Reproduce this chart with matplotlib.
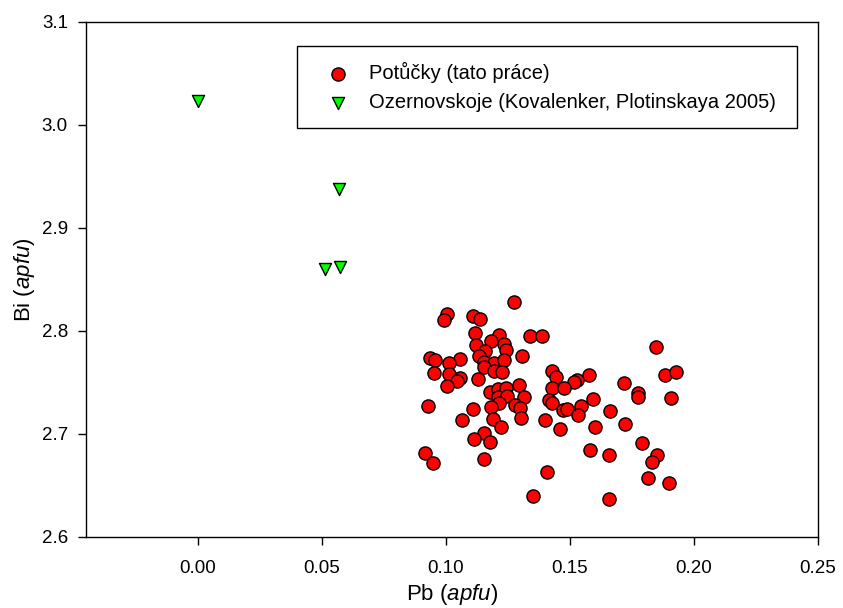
import matplotlib
matplotlib.use("Agg")
import matplotlib.pyplot as plt

plt.rcParams['font.family'] = ['Liberation Sans', 'DejaVu Sans']
plt.rcParams['mathtext.fontset'] = 'custom'
plt.rcParams['mathtext.rm'] = 'Liberation Sans'
plt.rcParams['mathtext.it'] = 'Liberation Sans:italic'

potucky_pb = [0.1275, 0.1006, 0.0993, 0.1110, 0.1138, 0.1119, 0.1340, 0.1390, 0.1214, 0.1183,
              0.1234, 0.1123, 0.1244, 0.1157, 0.1136, 0.1308, 0.0935, 0.0957, 0.1056, 0.1013,
              0.1154, 0.1196, 0.1234, 0.1155, 0.0952, 0.1013, 0.1194, 0.1228, 0.1058, 0.1047,
              0.1132, 0.1006, 0.1177, 0.1210, 0.1244, 0.1294, 0.1213, 0.1246, 0.1316, 0.1217,
              0.1183, 0.1280, 0.0928, 0.1110, 0.1298, 0.1066, 0.1189, 0.1224, 0.1303, 0.1401,
              0.1154, 0.1114, 0.1177, 0.0918, 0.0950, 0.1153, 0.1408, 0.1354, 0.1848, 0.1429,
              0.1445, 0.1529, 0.1519, 0.1577, 0.1429, 0.1476, 0.1718, 0.1886, 0.1929, 0.1777,
              0.1777, 0.1415, 0.1428, 0.1593, 0.1910, 0.1546, 0.1662, 0.1472, 0.1488, 0.1534,
              0.1462, 0.1604, 0.1725, 0.1792, 0.1583, 0.1660, 0.1853, 0.1833, 0.1815, 0.1899,
              0.1660]
potucky_bi = [2.828, 2.816, 2.811, 2.814, 2.812, 2.798, 2.795, 2.795, 2.796, 2.790,
              2.787, 2.786, 2.781, 2.780, 2.776, 2.776, 2.774, 2.772, 2.773, 2.769,
              2.770, 2.769, 2.772, 2.765, 2.759, 2.758, 2.761, 2.760, 2.754, 2.751,
              2.753, 2.746, 2.741, 2.744, 2.745, 2.747, 2.736, 2.737, 2.736, 2.730,
              2.726, 2.728, 2.727, 2.724, 2.725, 2.713, 2.714, 2.707, 2.715, 2.713,
              2.701, 2.695, 2.692, 2.681, 2.672, 2.676, 2.663, 2.640, 2.784, 2.761,
              2.755, 2.752, 2.750, 2.757, 2.745, 2.745, 2.749, 2.757, 2.760, 2.740,
              2.736, 2.733, 2.730, 2.734, 2.735, 2.727, 2.722, 2.723, 2.724, 2.718,
              2.705, 2.707, 2.710, 2.691, 2.684, 2.679, 2.679, 2.673, 2.657, 2.652,
              2.637]

ozern_pb = [0.0, 0.0572, 0.0512, 0.0576]
ozern_bi = [3.023, 2.938, 2.860, 2.862]

xticks = [0.00, 0.05, 0.10, 0.15, 0.20, 0.25]
yticks = [2.6, 2.7, 2.8, 2.9, 3.0, 3.1]

fig = plt.figure(figsize=(8.43, 6.08), dpi=100)
ax = fig.add_axes([0.102, 0.117, 0.868, 0.847])

ax.scatter(potucky_pb, potucky_bi, s=90, c='#ff0000', edgecolors='black', linewidths=1.0,
           marker='o', label='Potůčky (tato práce)', zorder=3)
ax.scatter(ozern_pb, ozern_bi, s=75, c='#00ff00', edgecolors='black', linewidths=1.0,
           marker='v', label='Ozernovskoje (Kovalenker, Plotinskaya 2005)', zorder=3)

ax.set_xlim(-0.045, 0.25)
ax.set_ylim(2.6, 3.1)
ax.set_xticks(xticks)
ax.set_xticklabels([f'{t:.2f}' for t in xticks])
ax.set_yticks(yticks)
ax.set_yticklabels([f'{t:.1f}' for t in yticks])
ax.tick_params(direction='out', length=6, width=1, labelsize=13.5, top=False, right=False)
ax.tick_params(axis='x', pad=11)
ax.tick_params(axis='y', pad=7)
for sp in ax.spines.values():
    sp.set_linewidth(1.0)

ax.set_xlabel(r'Pb ($\mathit{apfu}$)', fontsize=16)
ax.set_ylabel(r'Bi ($\mathit{apfu}$)', fontsize=16)
ax.xaxis.set_label_coords(0.5, -0.088)
ax.yaxis.set_label_coords(-0.067, 0.5)

leg = ax.legend(loc='upper left', bbox_to_anchor=(0.288, 0.953, 0.684, 0.0), mode='expand',
                borderaxespad=0, fancybox=False, edgecolor='black', framealpha=1, fontsize=14.5,
                handletextpad=0.3, borderpad=0.8, labelspacing=0.5, handlelength=2.5)
leg.get_frame().set_linewidth(1.0)

fig.savefig('out.png', dpi=100)
